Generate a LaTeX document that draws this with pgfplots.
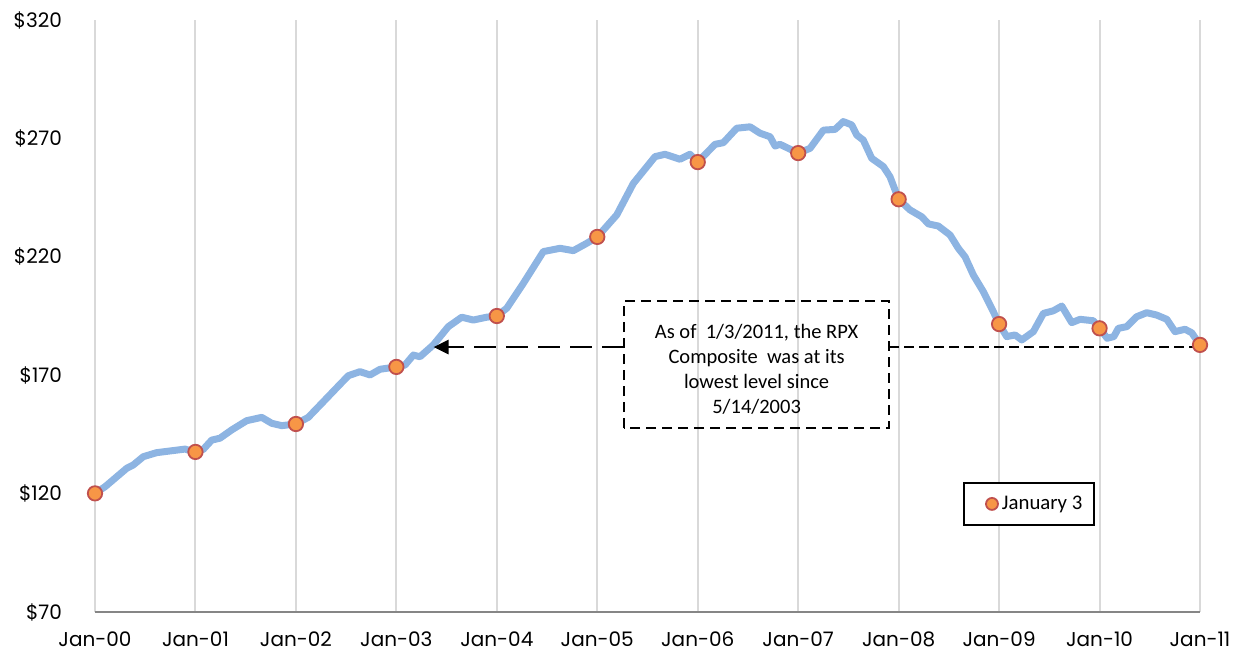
\documentclass[border=0pt]{standalone}
\usepackage{pgfplots}
\pgfplotsset{compat=1.18}
\usetikzlibrary{arrows.meta}
\usepackage{fontspec}
\setmainfont{Carlito}
\newfontfamily\tickfont{Poppins}
\definecolor{lineblue}{HTML}{8DB4E2}
\definecolor{mkfill}{HTML}{F79646}
\definecolor{mkedge}{HTML}{C0504D}
\definecolor{gridgray}{HTML}{D9D9D9}
\definecolor{axisgray}{HTML}{868686}

\pgfplotstableread{
x y
0 120.1
0.10 122.9
0.316 130.7
0.381 132.1
0.481 135.6
0.614 137.3
0.764 138.1
0.896 138.8
1.0 137.5
1.078 138.7
1.162 142.6
1.244 143.4
1.361 146.9
1.510 150.8
1.660 152.2
1.759 149.7
1.859 148.7
2.0 149.4
2.123 152.2
2.257 158.1
2.422 165.4
2.522 169.8
2.638 171.5
2.738 170.1
2.837 172.5
3.0 173.5
3.086 174.3
3.169 178.5
3.235 177.8
3.368 182.8
3.517 190.5
3.651 194.5
3.766 193.3
3.899 194.5
4.0 195.0
4.099 198.3
4.264 208.8
4.463 222.2
4.629 223.6
4.762 222.6
4.895 225.7
5.0 228.4
5.194 237.7
5.359 251.0
5.575 262.3
5.674 263.3
5.824 261.2
5.923 263.3
6.0 260.0
6.172 267.5
6.255 268.2
6.388 274.3
6.521 274.9
6.620 272.2
6.720 270.7
6.770 266.8
6.819 267.5
7.0 263.8
7.118 265.8
7.251 273.5
7.367 273.8
7.449 277.1
7.533 275.7
7.583 271.4
7.648 269.3
7.732 261.6
7.848 258.1
7.914 253.8
8.0 244.3
8.113 239.8
8.230 236.9
8.296 233.9
8.395 233.0
8.512 229.2
8.594 223.6
8.661 220.0
8.744 212.3
8.843 205.3
8.943 196.8
9.0 191.6
9.076 186.3
9.159 187.0
9.226 184.9
9.341 188.4
9.441 196.1
9.540 197.2
9.624 199.2
9.723 192.2
9.806 193.6
9.938 193.0
10.0 189.8
10.076 185.6
10.142 186.3
10.187 189.8
10.271 190.5
10.370 194.7
10.470 196.4
10.569 195.4
10.669 193.6
10.751 188.4
10.851 189.4
10.918 187.9
11.0 182.8
}\rpxline

\pgfplotstableread{
x y
0 120.1
1 137.6
2 149.4
3 173.5
4 195.0
5 228.4
6 260.0
7 263.8
8 244.3
9 191.6
10 189.8
11 182.8
}\janthree

\begin{document}
\begin{tikzpicture}
\begin{axis}[
  at={(0,0)}, anchor=south west,
  scale only axis, width=552.5pt, height=296pt,
  xmin=0, xmax=11, ymin=70, ymax=320,
  clip=false,
  xtick={0,1,2,3,4,5,6,7,8,9,10,11},
  xticklabels={Jan-00,Jan-01,Jan-02,Jan-03,Jan-04,Jan-05,Jan-06,Jan-07,Jan-08,Jan-09,Jan-10,Jan-11},
  ytick={70,120,170,220,270,320},
  yticklabels={\$70,\$120,\$170,\$220,\$270,\$320},
  major tick length=0pt,
  xmajorgrids,
  major grid style={draw=gridgray, line width=1pt},
  axis lines*=left,
  x axis line style={draw=axisgray, line width=1pt, -},
  y axis line style={draw=none},
  ticklabel style={font=\tickfont\fontsize{10}{12}\selectfont, text=black},
  xticklabel style={yshift=-6.5pt},
  yticklabel style={xshift=-13pt},
  legend style={at={(0.7855,0.2195)}, anchor=north west, draw=black, line width=1pt,
    fill=white, font=\fontsize{10.4}{12}\selectfont, inner xsep=4pt, inner ysep=4.3pt,
    /tikz/every even column/.style={column sep=0pt}},
  legend cell align=left,
  legend image code/.code={\path[draw=none,fill=none] (-10pt,-4pt) rectangle (2.4pt,4pt);\draw[#1, mark size=3pt, line width=0.8pt] plot coordinates {(0pt,0pt)};},
]
\addplot[lineblue, line width=3.5pt, line join=round, forget plot] table[x=x,y=y] {\rpxline};
\addplot[only marks, mark=*, mark size=3.6pt, mark options={fill=mkfill, draw=mkedge, line width=0.9pt}] table[x=x,y=y] {\janthree};
\addlegendentry{January 3}

\draw[black, dash pattern=on 5pt off 3pt, line width=1pt] (axis cs:5.266,147.7) rectangle (axis cs:7.905,201.3);
\node[align=center, font=\fontsize{10.25}{12.5}\selectfont, inner sep=0pt] at (axis cs:6.586,172.6)
  {As of\ \ 1/3/2011, the RPX\\Composite\ \ was at its\\lowest level since\\5/14/2003};
\draw[black, dash pattern=on 11pt off 5pt, line width=1.3pt, -{Triangle[length=7.5pt,width=7pt]}]
  (axis cs:5.266,181.9) -- (axis cs:3.37,181.9);
\draw[black, dash pattern=on 5pt off 2.5pt, line width=0.8pt]
  (axis cs:7.905,181.9) -- (axis cs:10.95,181.9);
\end{axis}
\pgfresetboundingbox
\path (-47.5pt,-24.5pt) rectangle (570.5pt,306pt);
\end{tikzpicture}
\end{document}
